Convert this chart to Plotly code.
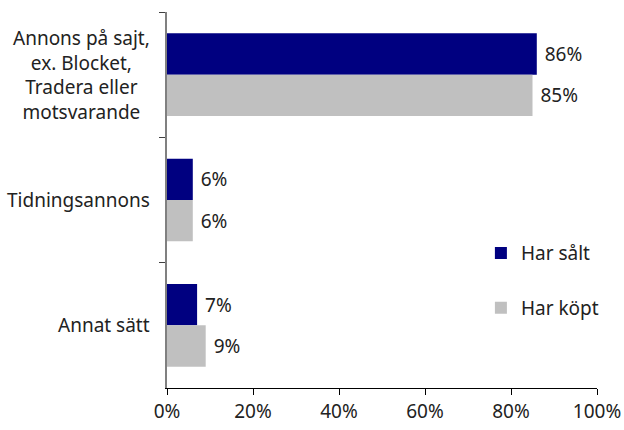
import plotly.graph_objects as go

categories = ["Annons på sajt,<br>ex. Blocket,<br>Tradera eller<br>motsvarande", "Tidningsannons", "Annat sätt"]
cat_keys = ["A", "B", "C"]
har_salt = [86, 6, 7]
har_kopt = [85, 6, 9]
series_names = ["Har sålt", "Har köpt"]
colors = ["#000080", "#C0C0C0"]
tick_vals = [0, 20, 40, 60, 80, 100]
tick_text = ["0%", "20%", "40%", "60%", "80%", "100%"]

FONT = "Noto Sans"
FS = 19
TXT = "#222222"
fig = go.Figure()
for i, (name, vals) in enumerate(zip(series_names, [har_salt, har_kopt])):
    fig.add_trace(go.Bar(
        y=cat_keys, x=vals, orientation="h", name=name,
        marker=dict(color=colors[i], line=dict(width=0)),
        text=[f"\u00a0{v}%" for v in vals], textposition="outside",
        textfont=dict(family=FONT, size=FS, color=TXT),
        cliponaxis=False, legendgroup=f"g{i}",
    ))

for key, lab in zip(cat_keys, categories):
    fig.add_annotation(x=-0.035, xref="paper", y=key, yref="y", text=lab,
                       showarrow=False, xanchor="right", yanchor="middle", align="center",
                       font=dict(family=FONT, size=FS, color=TXT))

fig.update_layout(
    width=624, height=430,
    margin=dict(l=167, r=27, t=12, b=42),
    paper_bgcolor="white", plot_bgcolor="white",
    barmode="group", bargap=0.34, bargroupgap=0,
    font=dict(family=FONT, size=FS, color=TXT),
    legend=dict(x=0.73, y=0.409, xanchor="left", yanchor="top",
                traceorder="grouped", tracegroupgap=27,
                font=dict(family=FONT, size=FS, color=TXT),
                itemwidth=30, bgcolor="rgba(0,0,0,0)"),
    showlegend=True,
)
fig.update_xaxes(range=[0, 100], tickvals=tick_vals, ticktext=tick_text,
                 showgrid=False, zeroline=False, showline=True, linecolor="#000000",
                 linewidth=1, ticks="outside", ticklen=6, tickcolor="#000000",
                 automargin=False,
                 tickfont=dict(family=FONT, size=FS, color=TXT))
fig.update_yaxes(autorange="reversed", showgrid=False, zeroline=False, showline=True,
                 linecolor="#808080", linewidth=2, ticks="outside", ticklen=6,
                 automargin=False,
                 tickcolor="#404040", tickson="boundaries", showticklabels=False)

fig.write_html("out.html", config={"displayModeBar": False},
               post_script="document.body.style.margin='0px';")
